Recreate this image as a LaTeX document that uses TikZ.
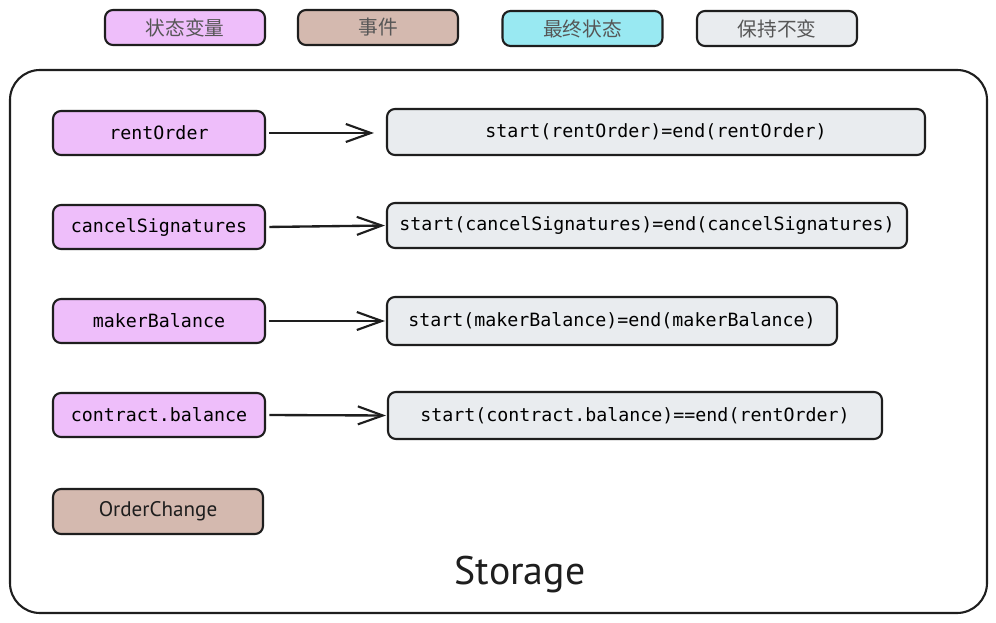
\documentclass[tikz,border=0pt]{standalone}
\usepackage{fontspec}
\setmainfont{PT Sans}
\setmonofont{DejaVu Sans Mono}
\newfontfamily\cjk{Noto Sans CJK SC}
\usetikzlibrary{arrows.meta}

\definecolor{ink}{HTML}{1E1E1E}
\definecolor{varfill}{HTML}{EEBEFA}
\definecolor{evtfill}{HTML}{D4B9AF}
\definecolor{endfill}{HTML}{99E9F2}
\definecolor{keepfill}{HTML}{E9ECEF}

\begin{document}
\begin{tikzpicture}[x=0.3mm, y=-0.3mm,
		box/.style={draw=ink, line width=1.8pt, rounded corners=2.4mm, inner sep=0pt},
		legend/.style={box, minimum width=48mm, minimum height=10.5mm, font=\cjk\fontsize{16.8}{20}\selectfont, text=ink!75},
		varbox/.style={box, fill=varfill, minimum width=63.6mm, minimum height=13.2mm, font=\ttfamily\fontsize{15.6}{18}\selectfont},
		keepbox/.style={box, fill=keepfill, minimum height=13.8mm, font=\ttfamily\fontsize{15.6}{18}\selectfont},
		arr/.style={draw=ink, line width=2pt, -{Straight Barb[length=7.5mm, width=5.4mm, line width=1.8pt]}}]
	\useasboundingbox (0,0) rectangle (996,623);

	% legend
	\node [legend, fill=varfill] (lvar) at (185,27.5) {状态变量};
	\node [legend, fill=evtfill] (levt) at (378,27.5) {事件};
	\node [legend, fill=endfill] (lend) at (582.5,28.5) {最终状态};
	\node [legend, fill=keepfill] (lkeep) at (777,28.5) {保持不变};

	% storage container
	\node [box, fill=white, rounded corners=9mm, minimum width=293.1mm, minimum height=162.9mm] (storage) at (498.5,341.5) {};
	\node [font=\fontsize{34}{40}\selectfont, text=ink] (storagelbl) at (520,575) {Storage};

	% state variables
	\node [varbox] (rent) at (159,133) {rentOrder};
	\node [varbox] (cancel) at (159,227) {cancelSignatures};
	\node [varbox] (maker) at (159,321) {makerBalance};
	\node [varbox] (contract) at (159,415) {contract.balance};
	\node [box, fill=evtfill, minimum width=63mm, minimum height=13.5mm, font=\fontsize{18}{21}\selectfont, text=ink] (change) at (158,511.5) {OrderChange};

	% invariants
	\node [keepbox, minimum width=161.4mm] (keeprent) at (656,132) {start(rentOrder)=end(rentOrder)};
	\node [keepbox, minimum width=156mm, minimum height=13.5mm] (keepcancel) at (647,225.5) {start(cancelSignatures)=end(cancelSignatures)};
	\node [keepbox, minimum width=135mm, minimum height=14.4mm] (keepmaker) at (612,321) {start(makerBalance)=end(makerBalance)};
	\node [keepbox, minimum width=148.2mm, minimum height=14.1mm] (keepcontract) at (635,415.5) {start(contract.balance)==end(rentOrder)};

	% arrows
	\draw [arr, shorten <=1mm, shorten >=3.6mm] (rent.east) -- (keeprent.west |- rent.east);
	\draw [arr, shorten <=1mm, shorten >=0.3mm] (cancel.east) -- (keepcancel.west);
	\draw [arr, shorten <=1mm, shorten >=0.3mm] (maker.east) -- (keepmaker.west);
	\draw [arr, shorten <=1mm, shorten >=0.3mm] (contract.east) -- (keepcontract.west);
\end{tikzpicture}
\end{document}
